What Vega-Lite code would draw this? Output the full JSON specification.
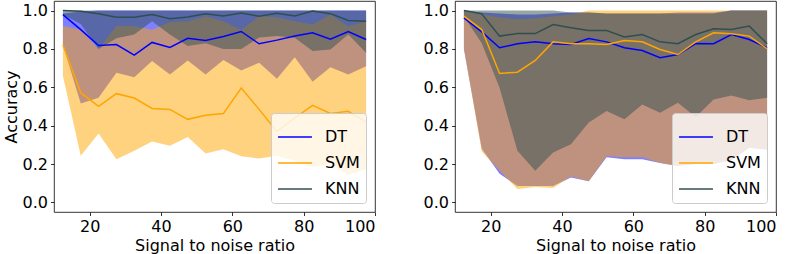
{
  "$schema": "https://vega.github.io/schema/vega-lite/v6.json",
  "padding": {"left": 2, "top": 0, "right": 5, "bottom": 0},
  "datasets": {
    "rows": [
      {"p":"A","m":"DT","x":12.5,"mean":0.979,"lo":0.82,"hi":0.985},
      {"p":"A","m":"DT","x":17.5,"mean":0.901,"lo":0.515,"hi":0.995},
      {"p":"A","m":"DT","x":22.5,"mean":0.818,"lo":0.546,"hi":1},
      {"p":"A","m":"DT","x":27.5,"mean":0.823,"lo":0.676,"hi":1},
      {"p":"A","m":"DT","x":32.5,"mean":0.768,"lo":0.653,"hi":1},
      {"p":"A","m":"DT","x":37.5,"mean":0.834,"lo":0.737,"hi":1},
      {"p":"A","m":"DT","x":42.5,"mean":0.808,"lo":0.667,"hi":1},
      {"p":"A","m":"DT","x":47.5,"mean":0.856,"lo":0.74,"hi":1},
      {"p":"A","m":"DT","x":52.5,"mean":0.844,"lo":0.667,"hi":1},
      {"p":"A","m":"DT","x":57.5,"mean":0.865,"lo":0.742,"hi":1},
      {"p":"A","m":"DT","x":62.5,"mean":0.891,"lo":0.688,"hi":1},
      {"p":"A","m":"DT","x":67.5,"mean":0.827,"lo":0.728,"hi":1},
      {"p":"A","m":"DT","x":72.5,"mean":0.846,"lo":0.645,"hi":1},
      {"p":"A","m":"DT","x":77.5,"mean":0.868,"lo":0.757,"hi":1},
      {"p":"A","m":"DT","x":82.5,"mean":0.884,"lo":0.629,"hi":1},
      {"p":"A","m":"DT","x":87.5,"mean":0.851,"lo":0.705,"hi":1},
      {"p":"A","m":"DT","x":92.5,"mean":0.891,"lo":0.667,"hi":1},
      {"p":"A","m":"DT","x":97.5,"mean":0.849,"lo":0.71,"hi":1},
      {"p":"A","m":"SVM","x":12.5,"mean":0.821,"lo":0.66,"hi":0.92},
      {"p":"A","m":"SVM","x":17.5,"mean":0.572,"lo":0.243,"hi":0.9},
      {"p":"A","m":"SVM","x":22.5,"mean":0.501,"lo":0.359,"hi":0.8},
      {"p":"A","m":"SVM","x":27.5,"mean":0.567,"lo":0.225,"hi":0.92},
      {"p":"A","m":"SVM","x":32.5,"mean":0.544,"lo":0.269,"hi":0.92},
      {"p":"A","m":"SVM","x":37.5,"mean":0.49,"lo":0.317,"hi":0.9},
      {"p":"A","m":"SVM","x":42.5,"mean":0.485,"lo":0.296,"hi":0.94},
      {"p":"A","m":"SVM","x":47.5,"mean":0.433,"lo":0.341,"hi":0.945},
      {"p":"A","m":"SVM","x":52.5,"mean":0.454,"lo":0.255,"hi":0.97},
      {"p":"A","m":"SVM","x":57.5,"mean":0.463,"lo":0.277,"hi":0.945},
      {"p":"A","m":"SVM","x":62.5,"mean":0.596,"lo":0.241,"hi":0.9},
      {"p":"A","m":"SVM","x":67.5,"mean":0.485,"lo":0.229,"hi":0.97},
      {"p":"A","m":"SVM","x":72.5,"mean":0.37,"lo":0.243,"hi":0.965},
      {"p":"A","m":"SVM","x":77.5,"mean":0.44,"lo":0.217,"hi":0.945},
      {"p":"A","m":"SVM","x":82.5,"mean":0.506,"lo":0.185,"hi":0.927},
      {"p":"A","m":"SVM","x":87.5,"mean":0.464,"lo":0.2,"hi":0.979},
      {"p":"A","m":"SVM","x":92.5,"mean":0.475,"lo":0.144,"hi":0.918},
      {"p":"A","m":"SVM","x":97.5,"mean":0.419,"lo":0.173,"hi":0.945},
      {"p":"A","m":"KNN","x":12.5,"mean":1.0,"lo":0.98,"hi":1},
      {"p":"A","m":"KNN","x":17.5,"mean":0.997,"lo":0.93,"hi":1},
      {"p":"A","m":"KNN","x":22.5,"mean":0.983,"lo":0.8,"hi":1},
      {"p":"A","m":"KNN","x":27.5,"mean":0.965,"lo":0.856,"hi":1},
      {"p":"A","m":"KNN","x":32.5,"mean":0.965,"lo":0.875,"hi":1},
      {"p":"A","m":"KNN","x":37.5,"mean":0.979,"lo":0.945,"hi":1},
      {"p":"A","m":"KNN","x":42.5,"mean":0.958,"lo":0.875,"hi":1},
      {"p":"A","m":"KNN","x":47.5,"mean":0.967,"lo":0.815,"hi":1},
      {"p":"A","m":"KNN","x":52.5,"mean":0.983,"lo":0.83,"hi":1},
      {"p":"A","m":"KNN","x":57.5,"mean":0.972,"lo":0.8,"hi":1},
      {"p":"A","m":"KNN","x":62.5,"mean":0.988,"lo":0.8,"hi":1},
      {"p":"A","m":"KNN","x":67.5,"mean":0.971,"lo":0.86,"hi":1},
      {"p":"A","m":"KNN","x":72.5,"mean":0.986,"lo":0.867,"hi":1},
      {"p":"A","m":"KNN","x":77.5,"mean":0.972,"lo":0.858,"hi":1},
      {"p":"A","m":"KNN","x":82.5,"mean":0.998,"lo":0.789,"hi":1},
      {"p":"A","m":"KNN","x":87.5,"mean":0.984,"lo":0.797,"hi":1},
      {"p":"A","m":"KNN","x":92.5,"mean":0.948,"lo":0.875,"hi":1},
      {"p":"A","m":"KNN","x":97.5,"mean":0.945,"lo":0.78,"hi":1},
      {"p":"B","m":"DT","x":12.5,"mean":0.962,"lo":0.8,"hi":1},
      {"p":"B","m":"DT","x":17.5,"mean":0.889,"lo":0.28,"hi":0.99},
      {"p":"B","m":"DT","x":22.5,"mean":0.806,"lo":0.15,"hi":0.985},
      {"p":"B","m":"DT","x":27.5,"mean":0.827,"lo":0.085,"hi":0.98},
      {"p":"B","m":"DT","x":32.5,"mean":0.837,"lo":0.085,"hi":0.98},
      {"p":"B","m":"DT","x":37.5,"mean":0.827,"lo":0.085,"hi":0.985},
      {"p":"B","m":"DT","x":42.5,"mean":0.823,"lo":0.13,"hi":0.99},
      {"p":"B","m":"DT","x":47.5,"mean":0.854,"lo":0.11,"hi":0.99},
      {"p":"B","m":"DT","x":52.5,"mean":0.837,"lo":0.235,"hi":0.985},
      {"p":"B","m":"DT","x":57.5,"mean":0.806,"lo":0.225,"hi":0.985},
      {"p":"B","m":"DT","x":62.5,"mean":0.792,"lo":0.225,"hi":0.985},
      {"p":"B","m":"DT","x":67.5,"mean":0.754,"lo":0.205,"hi":0.985},
      {"p":"B","m":"DT","x":72.5,"mean":0.771,"lo":0.19,"hi":0.99},
      {"p":"B","m":"DT","x":77.5,"mean":0.828,"lo":0.2,"hi":0.99},
      {"p":"B","m":"DT","x":82.5,"mean":0.827,"lo":0.2,"hi":0.99},
      {"p":"B","m":"DT","x":87.5,"mean":0.875,"lo":0.22,"hi":1},
      {"p":"B","m":"DT","x":92.5,"mean":0.849,"lo":0.285,"hi":1},
      {"p":"B","m":"DT","x":97.5,"mean":0.806,"lo":0.275,"hi":1},
      {"p":"B","m":"SVM","x":12.5,"mean":0.971,"lo":0.8,"hi":1},
      {"p":"B","m":"SVM","x":17.5,"mean":0.901,"lo":0.265,"hi":0.98},
      {"p":"B","m":"SVM","x":22.5,"mean":0.672,"lo":0.165,"hi":0.965},
      {"p":"B","m":"SVM","x":27.5,"mean":0.679,"lo":0.07,"hi":0.955},
      {"p":"B","m":"SVM","x":32.5,"mean":0.74,"lo":0.08,"hi":0.96},
      {"p":"B","m":"SVM","x":37.5,"mean":0.837,"lo":0.075,"hi":0.97},
      {"p":"B","m":"SVM","x":42.5,"mean":0.827,"lo":0.135,"hi":0.98},
      {"p":"B","m":"SVM","x":47.5,"mean":0.827,"lo":0.11,"hi":1},
      {"p":"B","m":"SVM","x":52.5,"mean":0.823,"lo":0.24,"hi":1},
      {"p":"B","m":"SVM","x":57.5,"mean":0.844,"lo":0.235,"hi":1},
      {"p":"B","m":"SVM","x":62.5,"mean":0.837,"lo":0.235,"hi":1},
      {"p":"B","m":"SVM","x":67.5,"mean":0.797,"lo":0.205,"hi":1},
      {"p":"B","m":"SVM","x":72.5,"mean":0.771,"lo":0.19,"hi":1},
      {"p":"B","m":"SVM","x":77.5,"mean":0.837,"lo":0.2,"hi":1},
      {"p":"B","m":"SVM","x":82.5,"mean":0.884,"lo":0.2,"hi":1},
      {"p":"B","m":"SVM","x":87.5,"mean":0.879,"lo":0.22,"hi":1},
      {"p":"B","m":"SVM","x":92.5,"mean":0.867,"lo":0.285,"hi":1},
      {"p":"B","m":"SVM","x":97.5,"mean":0.801,"lo":0.275,"hi":1},
      {"p":"B","m":"KNN","x":12.5,"mean":1.0,"lo":0.97,"hi":1},
      {"p":"B","m":"KNN","x":17.5,"mean":0.983,"lo":0.83,"hi":1},
      {"p":"B","m":"KNN","x":22.5,"mean":0.867,"lo":0.598,"hi":1},
      {"p":"B","m":"KNN","x":27.5,"mean":0.88,"lo":0.269,"hi":1},
      {"p":"B","m":"KNN","x":32.5,"mean":0.88,"lo":0.165,"hi":1},
      {"p":"B","m":"KNN","x":37.5,"mean":0.927,"lo":0.26,"hi":1},
      {"p":"B","m":"KNN","x":42.5,"mean":0.91,"lo":0.303,"hi":0.99},
      {"p":"B","m":"KNN","x":47.5,"mean":0.896,"lo":0.416,"hi":0.99},
      {"p":"B","m":"KNN","x":52.5,"mean":0.896,"lo":0.477,"hi":0.985},
      {"p":"B","m":"KNN","x":57.5,"mean":0.863,"lo":0.433,"hi":0.985},
      {"p":"B","m":"KNN","x":62.5,"mean":0.875,"lo":0.511,"hi":0.985},
      {"p":"B","m":"KNN","x":67.5,"mean":0.837,"lo":0.468,"hi":0.985},
      {"p":"B","m":"KNN","x":72.5,"mean":0.827,"lo":0.52,"hi":0.985},
      {"p":"B","m":"KNN","x":77.5,"mean":0.875,"lo":0.445,"hi":0.985},
      {"p":"B","m":"KNN","x":82.5,"mean":0.905,"lo":0.537,"hi":0.985},
      {"p":"B","m":"KNN","x":87.5,"mean":0.901,"lo":0.558,"hi":1},
      {"p":"B","m":"KNN","x":92.5,"mean":0.919,"lo":0.532,"hi":1},
      {"p":"B","m":"KNN","x":97.5,"mean":0.827,"lo":0.546,"hi":1}
    ]
  },
  "data": {"name": "rows"},
  "spacing": 46,
  "resolve": {"scale": {"color": "independent"}, "legend": {"color": "independent"}},
  "hconcat": [
    {
      "width": 321, "height": 211,
      "transform": [{"filter": "datum.p == 'A'"}],
      "encoding": {
        "x": {"field": "x", "type": "quantitative", "title": "Signal to noise ratio",
              "scale": {"domain": [10, 100], "nice": false, "zero": false},
              "axis": {"values": [20, 40, 60, 80, 100], "format": "d"}}
      },
      "layer": [
        {"transform": [{"filter": "datum.m == 'DT'"}], "mark": {"type": "area", "color": "#0000ff", "opacity": 0.5},
         "encoding": {"y": {"field": "lo", "type": "quantitative", "title": "Accuracy", "scale": {"domain": [-0.05, 1.05], "nice": false, "zero": false}, "axis": {"values": [0, 0.2, 0.4, 0.6, 0.8, 1.0], "format": ".1f"}}, "y2": {"field": "hi"}}},
        {"transform": [{"filter": "datum.m == 'SVM'"}], "mark": {"type": "area", "color": "#ffa500", "opacity": 0.5},
         "encoding": {"y": {"field": "lo", "type": "quantitative"}, "y2": {"field": "hi"}}},
        {"transform": [{"filter": "datum.m == 'KNN'"}], "mark": {"type": "area", "color": "#2f4f4f", "opacity": 0.5},
         "encoding": {"y": {"field": "lo", "type": "quantitative"}, "y2": {"field": "hi"}}},
        {"mark": {"type": "line", "strokeWidth": 1.5},
         "encoding": {"y": {"field": "mean", "type": "quantitative"},
                      "color": {"field": "m", "type": "nominal", "sort": ["DT", "SVM", "KNN"],
                                "scale": {"domain": ["DT", "SVM", "KNN"], "range": ["#0000ff", "#ffa500", "#2f4f4f"]},
                                "legend": {"title": null, "offset": 9}}}}
      ]
    },
    {
      "width": 321, "height": 211,
      "transform": [{"filter": "datum.p == 'B'"}],
      "encoding": {
        "x": {"field": "x", "type": "quantitative", "title": "Signal to noise ratio",
              "scale": {"domain": [10, 100], "nice": false, "zero": false},
              "axis": {"values": [20, 40, 60, 80, 100], "format": "d"}}
      },
      "layer": [
        {"transform": [{"filter": "datum.m == 'DT'"}], "mark": {"type": "area", "color": "#0000ff", "opacity": 0.5},
         "encoding": {"y": {"field": "lo", "type": "quantitative", "title": null, "scale": {"domain": [-0.05, 1.05], "nice": false, "zero": false}, "axis": {"values": [0, 0.2, 0.4, 0.6, 0.8, 1.0], "format": ".1f"}}, "y2": {"field": "hi"}}},
        {"transform": [{"filter": "datum.m == 'SVM'"}], "mark": {"type": "area", "color": "#ffa500", "opacity": 0.5},
         "encoding": {"y": {"field": "lo", "type": "quantitative"}, "y2": {"field": "hi"}}},
        {"transform": [{"filter": "datum.m == 'KNN'"}], "mark": {"type": "area", "color": "#2f4f4f", "opacity": 0.5},
         "encoding": {"y": {"field": "lo", "type": "quantitative"}, "y2": {"field": "hi"}}},
        {"mark": {"type": "line", "strokeWidth": 1.5},
         "encoding": {"y": {"field": "mean", "type": "quantitative"},
                      "color": {"field": "m", "type": "nominal", "sort": ["DT", "SVM", "KNN"],
                                "scale": {"domain": ["DT", "SVM", "KNN"], "range": ["#0000ff", "#ffa500", "#2f4f4f"]},
                                "legend": {"title": null, "offset": 9}}}}
      ]
    }
  ],
  "config": {
    "font": "DejaVu Sans",
    "view": {"stroke": "#000000", "strokeWidth": 0.8},
    "axis": {
      "labelFont": "DejaVu Sans", "titleFont": "DejaVu Sans",
      "labelFontSize": 16, "titleFontSize": 16, "titleFontWeight": "normal",
      "labelColor": "#000000", "titleColor": "#000000",
      "tickColor": "#000000", "tickSize": 3.5, "tickWidth": 0.8,
      "domain": false, "grid": false, "labelPadding": 3, "titlePadding": 3
    },
    "legend": {
      "orient": "bottom-right", "offset": 9,
      "fillColor": "rgba(255,255,255,0.8)", "strokeColor": "#cccccc", "cornerRadius": 3,
      "padding": 6, "symbolType": "stroke", "symbolSize": 1150, "symbolStrokeWidth": 1.5,
      "labelFont": "DejaVu Sans", "labelFontSize": 16, "labelColor": "#000000",
      "labelOffset": 12, "rowPadding": -2
    }
  }
}
